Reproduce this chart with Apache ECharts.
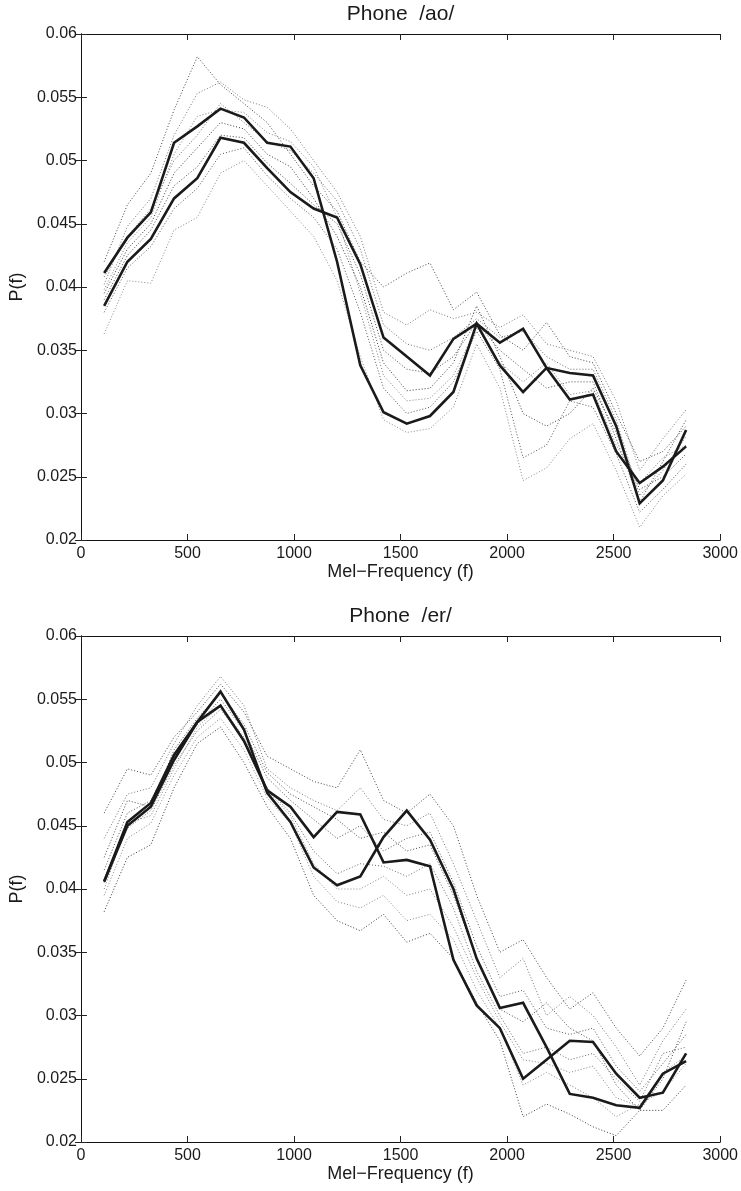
<!DOCTYPE html>
<html>
<head>
<meta charset="utf-8">
<title>Phone spectra</title>
<script src="https://cdn.jsdelivr.net/npm/echarts@6/dist/echarts.min.js"></script>
<style>
  html, body { margin: 0; padding: 0; background: #fff; }
  #chart { width: 741px; height: 1191px; }
</style>
</head>
<body>
<div id="chart"></div>
<script>
// Mel-filter centre frequencies (26 bands)
const melCenters = [109, 218, 328, 437, 546, 655, 765, 874, 983, 1092, 1202, 1311, 1420,
                    1529, 1638, 1748, 1857, 1966, 2075, 2185, 2294, 2403, 2512, 2622, 2731, 2840];

const xTicks = [0, 500, 1000, 1500, 2000, 2500, 3000];
const yTicks = [0.02, 0.025, 0.03, 0.035, 0.04, 0.045, 0.05, 0.055, 0.06];

// Phone /ao/ : two highlighted spectra
const aoMainA = [0.0411, 0.0439, 0.0459, 0.0514, 0.0527, 0.0541, 0.0534, 0.0514, 0.0511, 0.0486, 0.0420, 0.0338, 0.0301,
                 0.0292, 0.0298, 0.0317, 0.0371, 0.0338, 0.0317, 0.0336, 0.0311, 0.0315, 0.0270, 0.0245, 0.0258, 0.0274];
const aoMainB = [0.0385, 0.0420, 0.0438, 0.0470, 0.0486, 0.0518, 0.0514, 0.0494, 0.0475, 0.0462, 0.0455, 0.0418, 0.0360,
                 0.0345, 0.0330, 0.0359, 0.0371, 0.0356, 0.0367, 0.0336, 0.0332, 0.0330, 0.0290, 0.0229, 0.0247, 0.0287];
// Phone /ao/ : other spectra (dotted)
const aoOther1 = [0.0420, 0.0465, 0.0490, 0.0540, 0.0582, 0.0560, 0.0545, 0.0530, 0.0505, 0.0480, 0.0460, 0.0420, 0.0400,
                  0.0411, 0.0419, 0.0382, 0.0396, 0.0362, 0.0350, 0.0372, 0.0345, 0.0340, 0.0300, 0.0262, 0.0270, 0.0290];
const aoOther2 = [0.0402, 0.0448, 0.0470, 0.0520, 0.0553, 0.0562, 0.0548, 0.0542, 0.0525, 0.0500, 0.0475, 0.0440, 0.0380,
                  0.0370, 0.0382, 0.0375, 0.0380, 0.0368, 0.0378, 0.0355, 0.0350, 0.0345, 0.0310, 0.0255, 0.0280, 0.0303];
const aoOther3 = [0.0395, 0.0430, 0.0450, 0.0490, 0.0510, 0.0530, 0.0525, 0.0505, 0.0495, 0.0470, 0.0440, 0.0400, 0.0340,
                  0.0318, 0.0320, 0.0340, 0.0385, 0.0345, 0.0300, 0.0290, 0.0300, 0.0320, 0.0285, 0.0240, 0.0250, 0.0268];
const aoOther4 = [0.0363, 0.0405, 0.0403, 0.0445, 0.0455, 0.0490, 0.0500, 0.0480, 0.0460, 0.0440, 0.0405, 0.0345, 0.0295,
                  0.0285, 0.0288, 0.0305, 0.0355, 0.0320, 0.0247, 0.0257, 0.0280, 0.0292, 0.0255, 0.0210, 0.0235, 0.0252];
const aoOther5 = [0.0380, 0.0415, 0.0432, 0.0462, 0.0478, 0.0505, 0.0510, 0.0488, 0.0470, 0.0455, 0.0430, 0.0380, 0.0320,
                  0.0300, 0.0305, 0.0325, 0.0365, 0.0335, 0.0265, 0.0275, 0.0310, 0.0305, 0.0268, 0.0222, 0.0240, 0.0260];
const aoOther6 = [0.0408, 0.0440, 0.0462, 0.0500, 0.0520, 0.0545, 0.0530, 0.0515, 0.0508, 0.0490, 0.0468, 0.0430, 0.0370,
                  0.0355, 0.0350, 0.0360, 0.0375, 0.0360, 0.0365, 0.0345, 0.0335, 0.0335, 0.0295, 0.0235, 0.0255, 0.0282];
const aoOther7 = [0.0390, 0.0425, 0.0445, 0.0480, 0.0495, 0.0520, 0.0518, 0.0498, 0.0482, 0.0465, 0.0450, 0.0410, 0.0350,
                  0.0335, 0.0332, 0.0345, 0.0372, 0.0350, 0.0335, 0.0320, 0.0325, 0.0325, 0.0280, 0.0230, 0.0262, 0.0295];
const aoOther8 = [0.0398, 0.0435, 0.0455, 0.0505, 0.0535, 0.0540, 0.0538, 0.0522, 0.0515, 0.0495, 0.0455, 0.0395, 0.0330,
                  0.0310, 0.0312, 0.0330, 0.0368, 0.0340, 0.0325, 0.0340, 0.0315, 0.0318, 0.0275, 0.0245, 0.0265, 0.0275];

// Phone /er/ : two highlighted spectra
const erMainA = [0.0406, 0.0453, 0.0468, 0.0506, 0.0532, 0.0556, 0.0526, 0.0476, 0.0453, 0.0417, 0.0403, 0.0410, 0.0441,
                 0.0462, 0.0439, 0.0400, 0.0345, 0.0306, 0.0310, 0.0275, 0.0238, 0.0235, 0.0229, 0.0227, 0.0254, 0.0264];
const erMainB = [0.0406, 0.0450, 0.0465, 0.0502, 0.0532, 0.0545, 0.0517, 0.0478, 0.0465, 0.0441, 0.0461, 0.0459, 0.0421,
                 0.0423, 0.0418, 0.0344, 0.0308, 0.0290, 0.0250, 0.0265, 0.0280, 0.0279, 0.0254, 0.0235, 0.0239, 0.0270];
// Phone /er/ : other spectra (dotted)
const erOther1 = [0.0460, 0.0495, 0.0490, 0.0520, 0.0540, 0.0562, 0.0540, 0.0505, 0.0495, 0.0485, 0.0480, 0.0510, 0.0470,
                  0.0460, 0.0475, 0.0450, 0.0395, 0.0350, 0.0360, 0.0330, 0.0305, 0.0318, 0.0290, 0.0268, 0.0290, 0.0328];
const erOther2 = [0.0440, 0.0475, 0.0480, 0.0515, 0.0545, 0.0568, 0.0545, 0.0495, 0.0480, 0.0470, 0.0462, 0.0480, 0.0455,
                  0.0450, 0.0460, 0.0420, 0.0375, 0.0330, 0.0345, 0.0300, 0.0315, 0.0300, 0.0275, 0.0245, 0.0280, 0.0305];
const erOther3 = [0.0382, 0.0425, 0.0435, 0.0480, 0.0515, 0.0528, 0.0500, 0.0465, 0.0440, 0.0395, 0.0375, 0.0367, 0.0380,
                  0.0358, 0.0365, 0.0345, 0.0310, 0.0280, 0.0220, 0.0230, 0.0222, 0.0212, 0.0205, 0.0225, 0.0225, 0.0245];
const erOther4 = [0.0395, 0.0440, 0.0452, 0.0490, 0.0520, 0.0535, 0.0510, 0.0472, 0.0452, 0.0410, 0.0390, 0.0385, 0.0395,
                  0.0375, 0.0380, 0.0360, 0.0320, 0.0290, 0.0245, 0.0255, 0.0245, 0.0235, 0.0220, 0.0230, 0.0240, 0.0262];
const erOther5 = [0.0415, 0.0460, 0.0470, 0.0505, 0.0530, 0.0550, 0.0525, 0.0488, 0.0470, 0.0455, 0.0440, 0.0450, 0.0430,
                  0.0440, 0.0445, 0.0405, 0.0355, 0.0315, 0.0320, 0.0290, 0.0285, 0.0290, 0.0260, 0.0240, 0.0262, 0.0285];
const erOther6 = [0.0405, 0.0448, 0.0462, 0.0498, 0.0525, 0.0542, 0.0518, 0.0480, 0.0460, 0.0430, 0.0412, 0.0420, 0.0418,
                  0.0410, 0.0420, 0.0385, 0.0335, 0.0300, 0.0270, 0.0275, 0.0265, 0.0270, 0.0250, 0.0232, 0.0270, 0.0275];
const erOther7 = [0.0425, 0.0470, 0.0465, 0.0510, 0.0535, 0.0555, 0.0530, 0.0492, 0.0475, 0.0465, 0.0455, 0.0440, 0.0445,
                  0.0430, 0.0435, 0.0395, 0.0345, 0.0305, 0.0295, 0.0310, 0.0290, 0.0280, 0.0245, 0.0225, 0.0250, 0.0295];
const erOther8 = [0.0400, 0.0452, 0.0458, 0.0495, 0.0528, 0.0545, 0.0520, 0.0478, 0.0458, 0.0420, 0.0400, 0.0400, 0.0410,
                  0.0395, 0.0400, 0.0370, 0.0330, 0.0295, 0.0265, 0.0262, 0.0255, 0.0260, 0.0235, 0.0228, 0.0255, 0.0268];

const panels = [
  { title: 'Phone  /ao/', main: [aoMainA, aoMainB],
    other: [aoOther1, aoOther2, aoOther3, aoOther4, aoOther5, aoOther6, aoOther7, aoOther8] },
  { title: 'Phone  /er/', main: [erMainA, erMainB],
    other: [erOther1, erOther2, erOther3, erOther4, erOther5, erOther6, erOther7, erOther8] }
];

const FONT = '"Liberation Sans", Arial, Helvetica, sans-serif';
const INK = '#1a1a1a';
const dotColors = ['#444', '#777', '#3a3a3a', '#888', '#555', '#6a6a6a', '#4a4a4a', '#808080'];

const pairs = vals => vals.map((v, i) => [melCenters[i], v]);
const fmtX = v => String(Math.round(v));
const fmtY = v => String(+v.toFixed(4));

const grids = [], xAxes = [], yAxes = [], series = [];
const tickStyle = { inside: true, length: 6, lineStyle: { color: '#222', width: 1 } };
const lineStyle = { show: true, lineStyle: { color: '#111', width: 1 } };

panels.forEach((p, gi) => {
  grids.push({ left: 80, width: 641, top: gi === 0 ? 34 : 636, height: 506 });

  const xBase = { gridIndex: gi, type: 'value', min: xTicks[0], max: xTicks[xTicks.length - 1],
                  interval: xTicks[1] - xTicks[0], splitLine: { show: false },
                  axisLine: lineStyle, axisTick: tickStyle };
  const yBase = { gridIndex: gi, type: 'value', min: yTicks[0], max: yTicks[yTicks.length - 1],
                  interval: 0.005, splitLine: { show: false },
                  axisLine: lineStyle, axisTick: tickStyle };

  // bottom x axis with labels
  xAxes.push(Object.assign({}, xBase, {
    position: 'bottom',
    name: 'Mel\u2212Frequency (f)', nameLocation: 'middle', nameGap: 21,
    nameTextStyle: { fontFamily: FONT, fontSize: 18, color: INK },
    axisLabel: { fontFamily: FONT, fontSize: 16, color: INK, margin: 6, formatter: fmtX }
  }));
  // top x axis: box edge, ticks, and panel title
  xAxes.push(Object.assign({}, xBase, {
    position: 'top',
    name: p.title, nameLocation: 'middle', nameGap: 9,
    nameTextStyle: { fontFamily: FONT, fontSize: 21, color: INK, verticalAlign: 'bottom' },
    axisLabel: { show: false }
  }));
  // left y axis with labels
  yAxes.push(Object.assign({}, yBase, {
    position: 'left',
    name: 'P(f)', nameLocation: 'middle', nameGap: 52,
    nameTextStyle: { fontFamily: FONT, fontSize: 18, color: INK },
    axisLabel: { fontFamily: FONT, fontSize: 16, color: INK, margin: 4, formatter: fmtY }
  }));
  // right y axis: box edge and ticks
  yAxes.push(Object.assign({}, yBase, { position: 'right', axisLabel: { show: false } }));

  const xi = gi * 2, yi = gi * 2;
  p.other.forEach((vals, k) => {
    series.push({
      type: 'line', xAxisIndex: xi, yAxisIndex: yi, data: pairs(vals),
      symbol: 'none', silent: true, z: 2,
      lineStyle: { color: dotColors[k % dotColors.length], width: 1, type: [1, 2] }
    });
  });
  p.main.forEach(vals => {
    series.push({
      type: 'line', xAxisIndex: xi, yAxisIndex: yi, data: pairs(vals),
      symbol: 'none', silent: true, z: 5,
      lineStyle: { color: INK, width: 2.6, join: 'miter' }
    });
  });
});

const chart = echarts.init(document.getElementById('chart'), null, { renderer: 'canvas' });
chart.setOption({
  backgroundColor: '#fff',
  animation: false,
  grid: grids,
  xAxis: xAxes,
  yAxis: yAxes,
  series: series
});
</script>
</body>
</html>
